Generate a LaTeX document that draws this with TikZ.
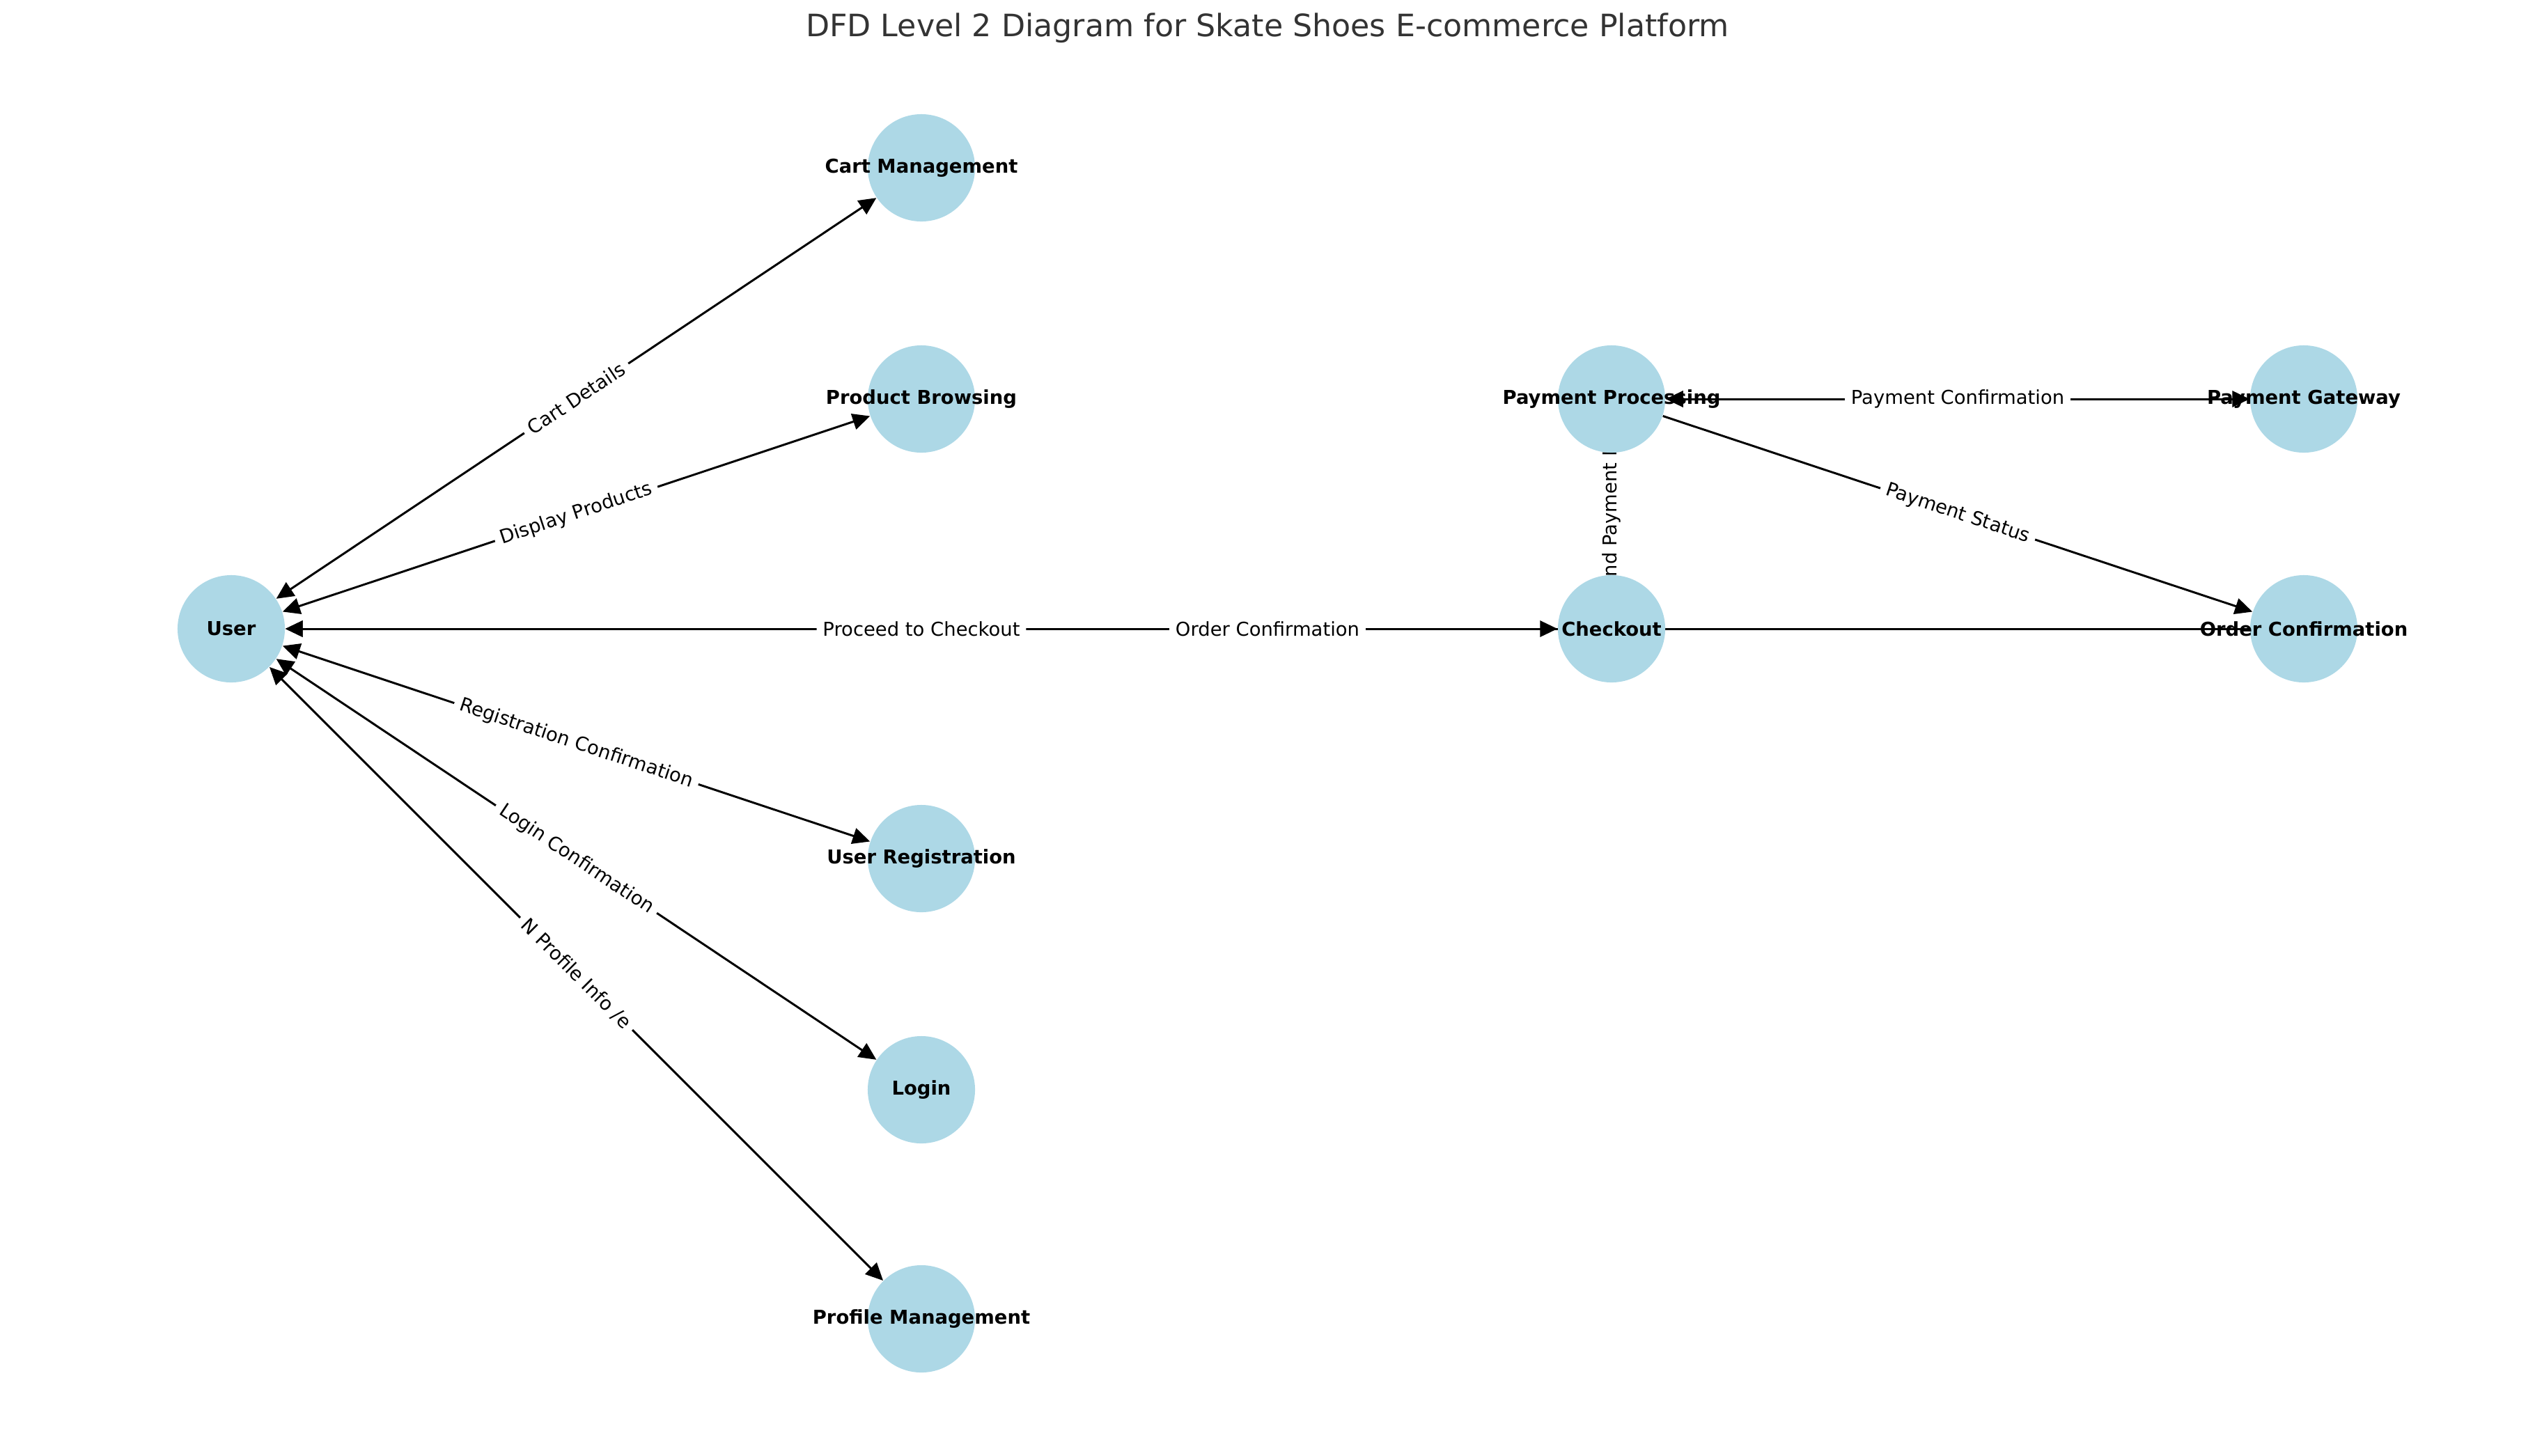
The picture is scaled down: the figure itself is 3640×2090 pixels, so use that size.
\documentclass[tikz,border=0pt]{standalone}
\usepackage{fontspec}
\setmainfont{DejaVu Sans}
\usetikzlibrary{arrows.meta}
\pgfdeclarelayer{edges}
\pgfsetlayers{edges,main}
\definecolor{nodeblue}{HTML}{ADD8E6}
\definecolor{titlegray}{HTML}{333333}
\begin{document}
\begin{tikzpicture}[x=0.01cm,y=-0.01cm,
  proc/.style={circle,fill=nodeblue,minimum size=1.54cm,inner sep=0pt},
  nlabel/.style={font=\fontsize{7.8}{9}\selectfont\bfseries,inner sep=0pt},
  flow/.style={line width=0.85pt,draw=black},
  tip/.tip={Triangle[length=7.1pt,width=6.6pt]},
  both/.style={flow,tip-tip},
  elabel/.style={font=\fontsize{7.8}{9}\selectfont,fill=white,inner xsep=2.5pt,inner ysep=1.5pt,rounded corners=2pt,sloped,midway}]
\path[use as bounding box] (0,0) rectangle (3640,2090);
\node[font=\fontsize{12.6}{15}\selectfont,text=titlegray] (title) at (1820,40) {DFD Level 2 Diagram for Skate Shoes E-commerce Platform};
% process circles
\node[proc] (user) at (332,903) {};
\node[proc] (cart) at (1323,241) {};
\node[proc] (prod) at (1323,573) {};
\node[proc] (reg) at (1323,1233) {};
\node[proc] (login) at (1323,1565) {};
\node[proc] (prof) at (1323,1894) {};
\node[proc] (pp) at (2314,573) {};
\node[proc] (co) at (2314,903) {};
\node[proc] (pg) at (3308,573) {};
\node[proc] (oc) at (3308,903) {};
% labels
\node[nlabel] (userl) at (user) {User};
\node[nlabel] (cartl) at (cart) {Cart Management};
\node[nlabel] (prodl) at (prod) {Product Browsing};
\node[nlabel] (regl) at (reg) {User Registration};
\node[nlabel] (loginl) at (login) {Login};
\node[nlabel] (profl) at (prof) {Profile Management};
\node[nlabel] (ppl) at (pp) {Payment Processing};
\node[nlabel] (col) at (co) {Checkout};
\node[nlabel] (pgl) at (pg) {Payment Gateway};
\node[nlabel] (ocl) at (oc) {Order Confirmation};
\begin{pgfonlayer}{edges}
% connectors
\draw[both] (user) -- (cart);
\draw[both] (user) -- (prod);
\draw[flow,tip-] (user) -- (oc);
\draw[both] (user) -- (co);
\draw[both] (user) -- (reg);
\draw[both] (user) -- (login);
\draw[both] (user) -- (prof);
\draw[both] (pp) -- (pg);
\draw[flow,-tip] (pp) -- (oc);
\draw[flow] (co) -- (pp);
% connector labels (drawn after all lines)
\path (user) -- node[elabel]{Cart Details} (cart);
\path (user) -- node[elabel]{Display Products} (prod);
\path (user) -- node[elabel]{Order Confirmation} (oc);
\path (user) -- node[elabel]{Proceed to Checkout} (co);
\path (user) -- node[elabel]{Registration Confirmation} (reg);
\path (user) -- node[elabel]{Login Confirmation} (login);
\path (user) -- node[elabel]{N Profile Info /e} (prof);
\path (pp) -- node[elabel]{Payment Confirmation} (pg);
\path (pp) -- node[elabel]{Payment Status} (oc);
\path (co) -- node[elabel]{nd Payment I} (pp);
\end{pgfonlayer}
\end{tikzpicture}
\end{document}
